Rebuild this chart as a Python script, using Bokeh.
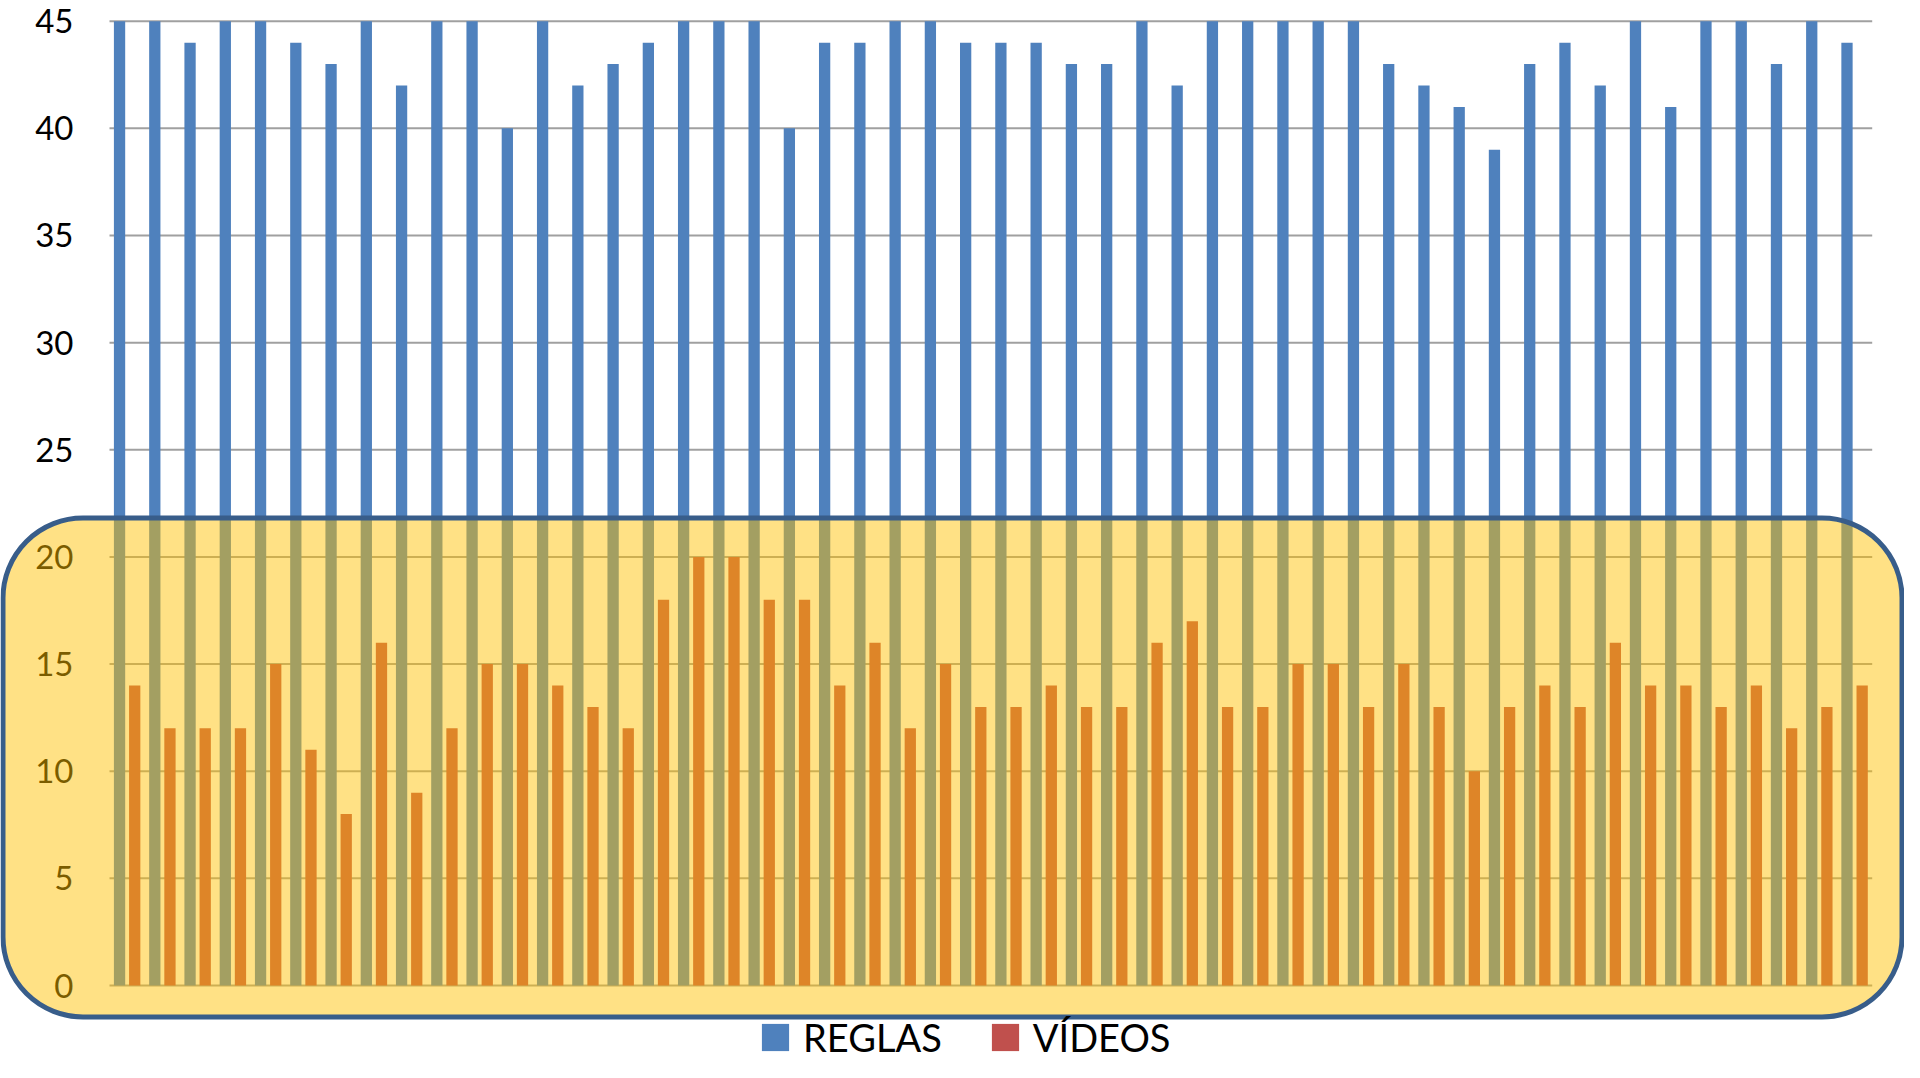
from bokeh.plotting import figure
from bokeh.models import (ColumnDataSource, Range1d, BoxAnnotation,
                          Legend, LegendItem, FixedTicker)
from bokeh.transform import dodge
from bokeh.embed import file_html
from bokeh.resources import INLINE

# ---------------- data ----------------
categories = [str(i) for i in range(1, 51)]
reglas = [45, 45, 44, 45, 45, 44, 43, 45, 42, 45,
          45, 40, 45, 42, 43, 44, 45, 45, 45, 40,
          44, 44, 45, 45, 44, 44, 44, 43, 43, 45,
          42, 45, 45, 45, 45, 45, 43, 42, 41, 39,
          43, 44, 42, 45, 41, 45, 45, 43, 45, 44]
videos = [14, 12, 12, 12, 15, 11, 8, 16, 9, 12,
          15, 15, 14, 13, 12, 18, 20, 20, 18, 18,
          14, 16, 12, 15, 13, 13, 14, 13, 13, 16,
          17, 13, 13, 15, 15, 13, 15, 13, 10, 13,
          14, 13, 16, 14, 14, 13, 14, 12, 13, 14]
y_ticks = [0, 5, 10, 15, 20, 25, 30, 35, 40, 45]
series_names = ["REGLAS", "VÍDEOS"]
series_colors = ["#4F81BD", "#C0504D"]

n = len(categories)
xpos = list(range(n))
source = ColumnDataSource(dict(x=xpos, cat=categories, reglas=reglas, videos=videos))

W, H = 1904, 1062
# plot area (categories) spans canvas x 109..1872, value 0 at y=985, 45 at y=20.7
cat_px = (1871.7 - 109) / n
x_start = -0.5 - 109 / cat_px
x_end = -0.5 + (W - 109) / cat_px
ky = (985 - 20.7) / 45.0
y_top = 985 / ky
y_bottom = -(H - 985) / ky

p = figure(width=W, height=H, output_backend="svg", toolbar_location=None,
           x_range=Range1d(x_start, x_end), y_range=Range1d(y_bottom, y_top),
           x_axis_location=None,
           min_border_left=0, min_border_right=0,
           min_border_top=0, min_border_bottom=0)
p.outline_line_color = None
p.background_fill_color = "white"
p.border_fill_color = "white"
p.xgrid.visible = False
p.ygrid.visible = False

# y axis, fixed at the left edge of the category area
p.yaxis.fixed_location = -0.5
p.yaxis.ticker = FixedTicker(ticks=y_ticks)
p.yaxis.axis_line_color = None
p.yaxis.major_tick_line_color = None
p.yaxis.minor_tick_line_color = None
p.yaxis.major_tick_out = 0
p.yaxis.major_tick_in = 0
p.yaxis.major_label_standoff = 36
p.yaxis.major_label_text_font = "Lato"
p.yaxis.major_label_text_font_size = "33px"
p.yaxis.major_label_text_color = "black"

# horizontal grid lines over the category area
p.segment(x0=[-0.5] * len(y_ticks), x1=[n - 0.5] * len(y_ticks),
          y0=y_ticks, y1=y_ticks, line_color="#A0A0A0", line_width=2)

bw = 0.32
r1 = p.vbar(x=dodge("x", -0.215), top="reglas", width=bw,
            source=source, fill_color=series_colors[0], line_color=None)
r2 = p.vbar(x=dodge("x", 0.215), top="videos", width=bw,
            source=source, fill_color=series_colors[1], line_color=None)

legend = Legend(items=[LegendItem(label=series_names[0], renderers=[r1]),
                       LegendItem(label=series_names[1], renderers=[r2])],
                orientation="horizontal", location=(758, 2),
                glyph_width=34, glyph_height=34, label_standoff=11, spacing=46,
                padding=0, margin=0, border_line_color=None,
                background_fill_alpha=0,
                label_text_font="Lato", label_text_font_size="38px",
                label_text_color="black")
p.add_layout(legend)

box = BoxAnnotation(left=2.5, right=1901.5, top=517.5, bottom=1016.5,
                    left_units="canvas", right_units="canvas",
                    top_units="canvas", bottom_units="canvas",
                    fill_color="#FFC000", fill_alpha=0.48,
                    line_color="#385D8A", line_alpha=1.0, line_width=5,
                    border_radius=80, level="overlay")
p.add_layout(box)

open("out.html", "w").write(file_html(p, INLINE))
